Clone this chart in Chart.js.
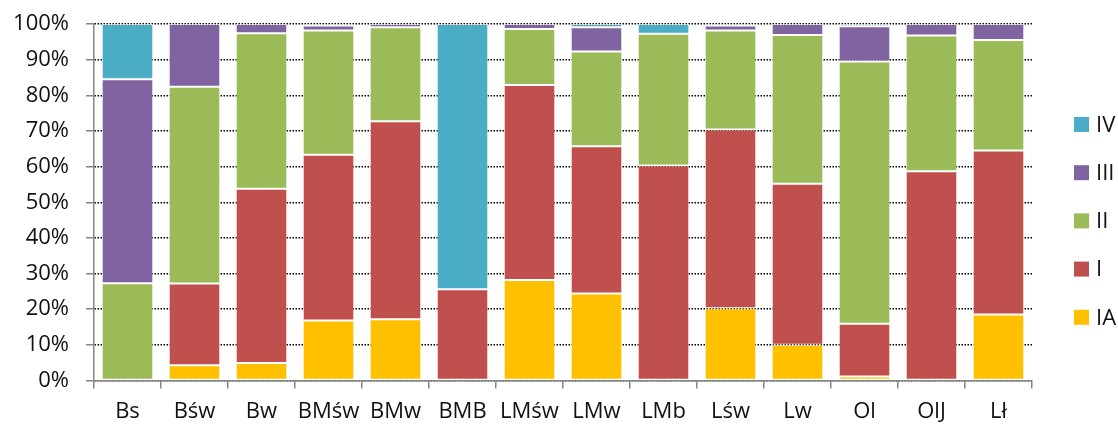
<!DOCTYPE html>
<html>
<head>
<meta charset="utf-8">
<script src="https://cdn.jsdelivr.net/npm/chart.js@4"></script>
<style>
html,body{margin:0;padding:0;background:#fff;}
#wrap{width:1118px;height:426px;position:relative;}
</style>
</head>
<body>
<div id="wrap"><canvas id="c" width="1118" height="426"></canvas></div>
<script>
const categories = ["Bs","Bśw","Bw","BMśw","BMw","BMB","LMśw","LMw","LMb","Lśw","Lw","Ol","OlJ","Lł"];
const seriesIA  = [0, 4.3, 4.9, 16.8, 17.2, 0, 28.2, 24.4, 0, 20.3, 10.0, 1.1, 0, 18.5];
const seriesI   = [0, 22.9, 48.9, 46.5, 55.5, 25.6, 54.7, 41.3, 60.3, 50.1, 45.2, 14.8, 58.7, 46.0];
const seriesII  = [27.3, 55.2, 43.6, 34.9, 26.4, 0, 15.7, 26.6, 37.0, 27.8, 41.7, 73.6, 38.1, 31.0];
const seriesIII = [57.2, 17.6, 2.6, 1.4, 0.9, 0, 1.4, 6.8, 0, 1.4, 3.1, 9.9, 3.2, 4.5];
const seriesIV  = [15.5, 0, 0, 0.4, 0, 74.4, 0, 0.9, 2.7, 0.4, 0, 0.6, 0, 0];
const seriesNames = ["IA","I","II","III","IV"];
const seriesColors = ["#FFC000","#C0504D","#9BBB59","#8064A2","#4BACC6"];
const yTicks = [0,10,20,30,40,50,60,70,80,90,100];

const FONT = "'Open Sans', 'Liberation Sans', sans-serif";
const seriesData = [seriesIA, seriesI, seriesII, seriesIII, seriesIV];

const datasets = seriesData.map((d, i) => ({
  label: seriesNames[i],
  data: d,
  backgroundColor: seriesColors[i],
  borderColor: 'rgba(255,255,255,0.35)',
  borderWidth: ctx => (ctx.raw > 0 ? 1 : 0),
  borderSkipped: false,
  barPercentage: 0.77,
  categoryPercentage: 1.0
}));

const legendPlugin = {
  id: 'customLegend',
  afterDraw(chart) {
    const ctx = chart.ctx;
    const ds = chart.data.datasets.slice().reverse();
    ctx.save();
    ctx.font = "22px " + FONT;
    ctx.textBaseline = 'middle';
    ctx.textAlign = 'left';
    ds.forEach((d, i) => {
      const cy = 124.5 + i * 48.2;
      ctx.fillStyle = d.backgroundColor;
      ctx.fillRect(1074, cy - 7.5, 15, 15);
      ctx.fillStyle = '#111';
      ctx.fillText(d.label, 1096, cy + 1);
    });
    ctx.restore();
  }
};

new Chart(document.getElementById('c'), {
  type: 'bar',
  data: { labels: categories, datasets: datasets },
  options: {
    responsive: false,
    animation: false,
    devicePixelRatio: 1,
    layout: { padding: { left: 0, right: 86, top: 24, bottom: 0 } },
    plugins: { legend: { display: false }, tooltip: { enabled: false } },
    scales: {
      x: {
        stacked: true,
        afterFit: s => { s.height = 45.5; },
        grid: { display: true, drawOnChartArea: false, drawTicks: true, tickLength: 8, offset: true, color: '#868686', lineWidth: 1.5 },
        border: { display: true, color: '#868686', width: 1.5 },
        ticks: { color: '#111', font: { family: FONT, size: 22 }, padding: 10, maxRotation: 0, autoSkip: false }
      },
      y: {
        stacked: true,
        min: 0, max: 100,
        afterFit: s => { s.width = 94; s.paddingTop = 0; s.paddingBottom = 0; },
        afterBuildTicks: s => { s.ticks = yTicks.map(v => ({ value: v })); },
        grid: { color: '#000', lineWidth: 1.5, tickColor: '#868686', tickLength: 8, drawTicks: true },
        border: { display: true, color: '#868686', width: 1.5, dash: [1.5, 1.5] },
        ticks: { color: '#111', font: { family: FONT, size: 22 }, padding: 17, callback: v => v + '%' }
      }
    }
  },
  plugins: [legendPlugin]
});
</script>
</body>
</html>
